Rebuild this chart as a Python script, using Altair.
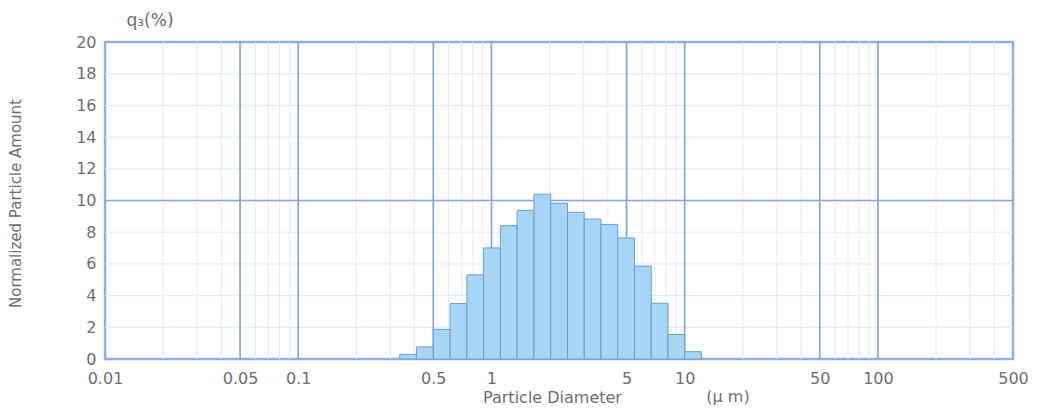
import altair as alt
import pandas as pd

# Particle size bins (µm) and normalized amount q3 (%)
bin_lo = [0.335, 0.409, 0.5, 0.611, 0.746, 0.911, 1.112, 1.358, 1.658, 2.025,
          2.473, 3.020, 3.688, 4.503, 5.50, 6.71, 8.19, 10.0]
bin_hi = [0.409, 0.5, 0.611, 0.746, 0.911, 1.112, 1.358, 1.658, 2.025, 2.473,
          3.020, 3.688, 4.503, 5.50, 6.71, 8.19, 10.0, 12.2]
q3 = [0.29, 0.76, 1.87, 3.50, 5.31, 7.01, 8.41, 9.38, 10.40, 9.83,
      9.25, 8.83, 8.49, 7.64, 5.86, 3.52, 1.55, 0.46]

x_ticks = [0.01, 0.05, 0.1, 0.5, 1, 5, 10, 50, 100, 500]
y_ticks = [0, 2, 4, 6, 8, 10, 12, 14, 16, 18, 20]
major_x = [0.05, 0.1, 0.5, 1, 5, 10, 50, 100]
minor_x = [0.02, 0.03, 0.04, 0.06, 0.07, 0.08, 0.09,
           0.2, 0.3, 0.4, 0.6, 0.7, 0.8, 0.9,
           2, 3, 4, 6, 7, 8, 9,
           20, 30, 40, 60, 70, 80, 90,
           200, 300, 400]
major_y = [10]
minor_y = [2, 4, 6, 8, 12, 14, 16, 18]

FONT = "DejaVu Sans"
TXT = "#6e6e6e"
xs = alt.Scale(type="log", domain=[0.01, 500], nice=False)
ys = alt.Scale(domain=[0, 20], nice=False, zero=True)

xa = alt.Axis(values=x_ticks, format="~g", grid=False, ticks=False,
              domain=False, labelFont=FONT, labelFontSize=16,
              labelColor=TXT, labelPadding=11,
              labelOverlap=False, labelFlush=False,
              title="Particle Diameter", titleFont=FONT,
              titleFontSize=16, titleFontWeight="normal",
              titleColor=TXT, titleX=447, titleY=43,
              titleAlign="center", titleBaseline="alphabetic")
ya = alt.Axis(values=y_ticks, grid=False, ticks=False, domain=False,
              labelFont=FONT, labelFontSize=16, labelColor=TXT,
              labelPadding=9,
              title="Normalized Particle Amount", titleFont=FONT,
              titleFontSize=15, titleFontWeight="normal",
              titleColor=TXT, titleX=-90, titleY=161,
              titleAngle=-90, titleAlign="center",
              titleBaseline="middle")

bars_df = pd.DataFrame({"lo": bin_lo, "hi": bin_hi, "q3": q3})

minor_v = alt.Chart(pd.DataFrame({"v": minor_x})).mark_rule(
    color="#e0ebf7", strokeWidth=1
).encode(x=alt.X("v:Q", scale=xs, axis=xa))

minor_h = alt.Chart(pd.DataFrame({"v": minor_y})).mark_rule(
    color="#e0ebf7", strokeWidth=1
).encode(y=alt.Y("v:Q", scale=ys, axis=ya))

major_v = alt.Chart(pd.DataFrame({"v": major_x})).mark_rule(
    color="#84a4df", strokeWidth=1.7
).encode(x=alt.X("v:Q", scale=xs, axis=xa))

major_h = alt.Chart(pd.DataFrame({"v": major_y})).mark_rule(
    color="#84a4df", strokeWidth=1.7
).encode(y=alt.Y("v:Q", scale=ys, axis=ya))

bars = alt.Chart(bars_df).mark_rect(
    fill="#a6d5f6", stroke="#6f9ccb", strokeWidth=1
).encode(
    x=alt.X("lo:Q", scale=xs, axis=xa),
    x2="hi:Q",
    y=alt.Y("q3:Q", scale=ys, axis=ya),
    y2=alt.datum(0),
)

unit_txt = alt.Chart(pd.DataFrame({"t": ["(μ m)"]})).mark_text(
    font=FONT, fontSize=16, color=TXT, align="center", baseline="alphabetic"
).encode(x=alt.value(623), y=alt.value(360), text="t:N")

q3_txt = alt.Chart(pd.DataFrame({"t": ["q₃(%)"]})).mark_text(
    font=FONT, fontSize=17, color=TXT, align="center", baseline="middle"
).encode(x=alt.value(45), y=alt.value(-21), text="t:N")

chart = alt.layer(minor_v, minor_h, major_v, major_h, bars, unit_txt, q3_txt).properties(
    width=908, height=317,
    padding={"left": 97, "top": 34, "right": 31, "bottom": 46},
    autosize=alt.AutoSizeParams(type="none"),
    background="white",
).configure_view(
    stroke="#8eaee6", strokeWidth=2.5
)

chart.save("out.html", embed_options={"renderer": "svg", "actions": False})
